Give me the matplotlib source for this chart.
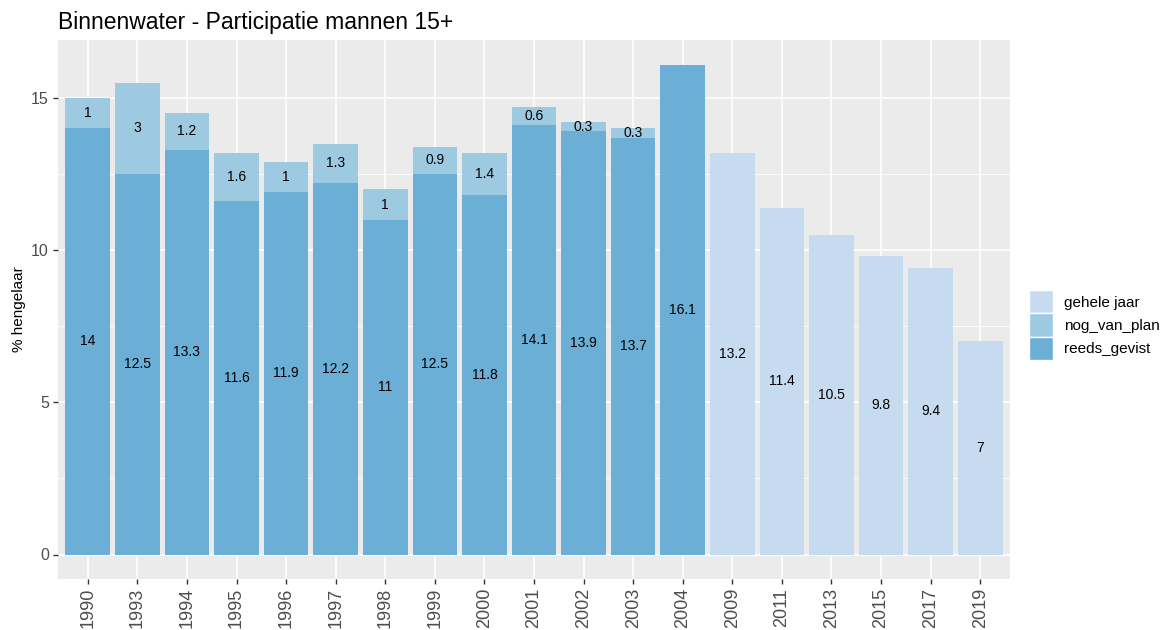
import matplotlib
matplotlib.use("Agg")
import matplotlib.pyplot as plt
from matplotlib.patches import Patch
import numpy as np

plt.rcParams['font.family'] = ['Liberation Sans', 'DejaVu Sans']

# data
years = ['1990', '1993', '1994', '1995', '1996', '1997', '1998', '1999', '2000',
         '2001', '2002', '2003', '2004', '2009', '2011', '2013', '2015', '2017', '2019']
reeds_gevist = [14, 12.5, 13.3, 11.6, 11.9, 12.2, 11, 12.5, 11.8, 14.1, 13.9, 13.7, 16.1,
                0, 0, 0, 0, 0, 0]
nog_van_plan = [1, 3, 1.2, 1.6, 1, 1.3, 1, 0.9, 1.4, 0.6, 0.3, 0.3, 0,
                0, 0, 0, 0, 0, 0]
gehele_jaar = [0] * 13 + [13.2, 11.4, 10.5, 9.8, 9.4, 7]

c_gehele = "#C6DBEF"
c_nog = "#9ECAE1"
c_reeds = "#6BAED6"

W, H = 1174, 630
fig = plt.figure(figsize=(W / 100, H / 100), dpi=100)
ax = fig.add_axes([58 / W, (H - 579) / H, 952 / W, 539 / H])
ax.set_facecolor("#EBEBEB")

x = np.arange(len(years))
reeds = np.array(reeds_gevist, dtype=float)
nog = np.array(nog_van_plan, dtype=float)
geh = np.array(gehele_jaar, dtype=float)

ax.bar(x, reeds, width=0.9, color=c_reeds, zorder=3)
ax.bar(x, nog, width=0.9, bottom=reeds, color=c_nog, zorder=3)
ax.bar(x, geh, width=0.9, bottom=reeds + nog, color=c_gehele, zorder=3)

# labels centred in each segment
for i in x:
    if reeds[i] > 0:
        ax.text(i, reeds[i] / 2, f"{reeds[i]:g}", ha="center", va="center",
                fontsize=10, color="black", zorder=4)
    if nog[i] > 0:
        ax.text(i, reeds[i] + nog[i] / 2, f"{nog[i]:g}", ha="center", va="center",
                fontsize=10, color="black", zorder=4)
    if geh[i] > 0:
        ax.text(i, reeds[i] + nog[i] + geh[i] / 2, f"{geh[i]:g}", ha="center",
                va="center", fontsize=10, color="black", zorder=4)

top = (reeds + nog + geh).max()
ax.set_xlim(-0.6, len(years) - 0.4)
ax.set_ylim(-0.05 * top, top * 1.05)

ax.set_yticks([0, 5, 10, 15])
ax.set_yticks([2.5, 7.5, 12.5], minor=True)
ax.set_xticks(x)
ax.set_xticklabels(years, rotation=90)
ax.grid(which="major", color="white", linewidth=1.2, zorder=0)
ax.grid(which="minor", axis="y", color="white", linewidth=0.6, zorder=0)
ax.set_axisbelow(True)
for s in ax.spines.values():
    s.set_visible(False)
ax.tick_params(axis="both", which="major", length=3.5, width=1, color="#333333",
               colors="#4D4D4D")
ax.tick_params(axis="x", labelsize=13, pad=3)
ax.tick_params(axis="y", labelsize=11.5, pad=3)
ax.tick_params(which="minor", length=0)
for lab in ax.get_xticklabels() + ax.get_yticklabels():
    lab.set_color("#4D4D4D")

ax.set_ylabel("% hengelaar", fontsize=11, color="black", labelpad=4)
ax.set_title("Binnenwater - Participatie mannen 15+", fontsize=16.5, loc="left",
             x=0, pad=8)

handles = [Patch(facecolor=c_gehele, edgecolor="white", linewidth=1, label="gehele jaar"),
           Patch(facecolor=c_nog, edgecolor="white", linewidth=1, label="nog_van_plan"),
           Patch(facecolor=c_reeds, edgecolor="white", linewidth=1, label="reeds_gevist")]
fig.legend(handles=handles, loc="center left", bbox_to_anchor=(1029 / W, 1 - 325 / H),
           frameon=False, fontsize=11, handlelength=1.55, handleheight=1.95,
           labelspacing=0, handletextpad=0.75, borderaxespad=0, borderpad=0)

fig.savefig("out.png", dpi=100)
